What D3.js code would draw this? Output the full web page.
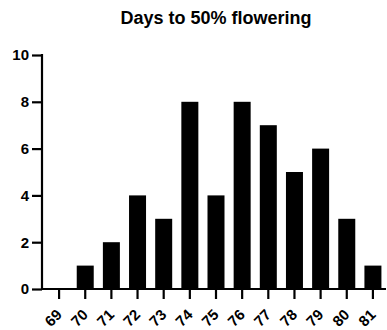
<!DOCTYPE html>
<html>
<head>
<meta charset="utf-8">
<script src="https://cdn.jsdelivr.net/npm/d3@7"></script>
<style>
  body { margin: 0; background: #fff; }
  text { font-family: "Liberation Sans", Arial, sans-serif; font-weight: bold; fill: #000; }
</style>
</head>
<body>
<div id="chart"></div>
<script>
const days = ['69', '70', '71', '72', '73', '74', '75', '76', '77', '78', '79', '80', '81'];
const counts = [0, 1, 2, 4, 3, 8, 4, 8, 7, 5, 6, 3, 1];
const yTicks = [0, 2, 4, 6, 8, 10];

const width = 387;
const height = 330;

const svg = d3.select('#chart').append('svg')
    .attr('width', width)
    .attr('height', height);

// band scale starts a bit right of the y axis line
const x = d3.scaleBand()
    .domain(days)
    .range([46, 386])
    .paddingInner(0.35)
    .paddingOuter(0.175);

const y = d3.scaleLinear()
    .domain([0, 10])
    .range([289, 55]);

svg.selectAll('rect.bar')
    .data(days)
    .enter().append('rect')
    .attr('class', 'bar')
    .attr('x', d => x(d))
    .attr('width', x.bandwidth())
    .attr('y', (d, i) => y(counts[i]))
    .attr('height', (d, i) => y(0) - y(counts[i]))
    .attr('fill', '#000');

// y axis
const yAxis = svg.append('g')
    .attr('transform', 'translate(42,0)')
    .call(d3.axisLeft(y).tickValues(yTicks).tickSize(10).tickPadding(3));
yAxis.select('.domain').attr('d', `M0,${y(10) - 1}V${y(0)}`);

// x axis
const xAxis = svg.append('g')
    .attr('transform', `translate(0,${y(0)})`)
    .call(d3.axisBottom(x).tickSize(10).tickSizeOuter(0));
xAxis.select('.domain').attr('d', 'M41,0H386');
xAxis.selectAll('.tick text')
    .attr('text-anchor', 'end')
    .attr('x', 0)
    .attr('y', 0)
    .attr('dy', '0.35em')
    .attr('transform', 'translate(0,23) rotate(-45)');

svg.selectAll('.domain, .tick line')
    .attr('stroke', '#000')
    .attr('stroke-width', 2.2);
svg.selectAll('.tick text')
    .attr('font-size', 15)
    .attr('font-family', '"Liberation Sans", Arial, sans-serif')
    .attr('font-weight', 'bold')
    .attr('fill', '#000');

svg.append('text')
    .attr('x', 216)
    .attr('y', 24)
    .attr('text-anchor', 'middle')
    .attr('font-size', 18)
    .text('Days to 50% flowering');
</script>
</body>
</html>
